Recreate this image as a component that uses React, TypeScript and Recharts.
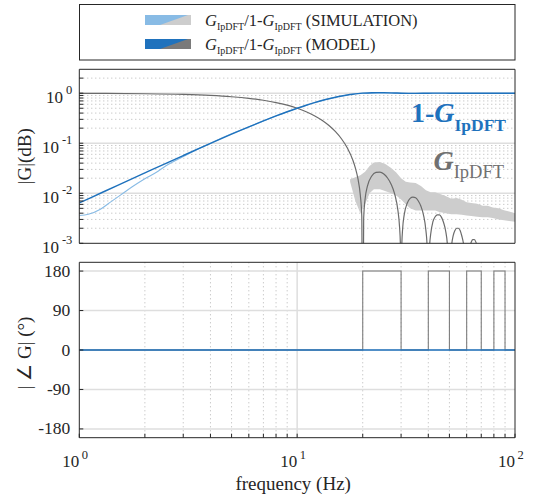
import React from 'react'
import { ComposedChart, Line, Area, XAxis, YAxis, CartesianGrid, Label } from 'recharts'

const FONT = "'Liberation Serif'"
const INK = '#262626'
const BLUE = '#1f72bd'
const LIGHT_BLUE = '#88bbe5'
const GRAY = '#6b6b6b'
const LIGHT_GRAY = '#cdcdcd'

// frequency axis (Hz)
const X_TICKS = [1, 2, 3, 4, 5, 6, 7, 8, 9, 10, 20, 30, 40, 50, 60, 70, 80, 90, 100]
const X_MINOR = [2, 3, 4, 5, 6, 7, 8, 9, 20, 30, 40, 50, 60, 70, 80, 90]
const X_MAJOR = [10]

// magnitude axis
const MAG_TICKS = [
  0.001, 0.002, 0.003, 0.004, 0.005, 0.006, 0.007, 0.008, 0.009,
  0.01, 0.02, 0.03, 0.04, 0.05, 0.06, 0.07, 0.08, 0.09,
  0.1, 0.2, 0.3, 0.4, 0.5, 0.6, 0.7, 0.8, 0.9, 1, 2,
]
const MAG_MINOR = [
  0.002, 0.003, 0.004, 0.005, 0.006, 0.007, 0.008, 0.009,
  0.02, 0.03, 0.04, 0.05, 0.06, 0.07, 0.08, 0.09,
  0.2, 0.3, 0.4, 0.5, 0.6, 0.7, 0.8, 0.9, 2,
]
const MAG_MAJOR = [0.01, 0.1, 1]

// phase axis (deg)
const PH_TICKS = [-180, -90, 0, 90, 180]

// G_IpDFT, model
const G_FREQ = [
  1, 2, 3, 4, 5, 6, 7, 8, 9, 10, 11, 12, 13, 14, 15, 16, 17, 18, 18.5, 19, 19.5, 19.8, 20,
  20.2, 20.5, 21, 22, 23, 24, 25, 26, 27, 28, 29, 29.5, 29.8, 30,
  30.2, 30.5, 31, 32, 33, 34, 35, 36, 37, 38, 39, 39.5, 40,
  40.5, 41, 42, 43, 44, 45, 46, 47, 48, 49, 50,
  51, 52, 53, 54, 55, 56, 57, 58, 59, 60,
  61, 62, 63, 64, 65, 66, 67, 68, 70, 75, 80, 85, 90, 95, 100,
]
const G_MODEL = [
  0.9936, 0.9745, 0.9433, 0.901, 0.8488, 0.7884, 0.7214, 0.6497, 0.5752, 0.5, 0.4258, 0.3544, 0.2871, 0.2253, 0.1698, 0.1213, 0.0802, 0.0464, 0.0322, 0.0198, 0.0091, 0.0035, 0.000001,
  0.0032, 0.0076, 0.0137, 0.0221, 0.0261, 0.0265, 0.0243, 0.0202, 0.0152, 0.0098, 0.0046, 0.0022, 0.00085, 0.000001,
  0.00082, 0.00197, 0.0037, 0.0063, 0.0079, 0.0084, 0.0081, 0.007, 0.0055, 0.0037, 0.0018, 0.00086, 0.000001,
  0.0008, 0.0015, 0.0027, 0.0034, 0.0037, 0.0037, 0.0033, 0.0026, 0.0018, 0.00087, 0.000001,
  0.00077, 0.0014, 0.0018, 0.002, 0.002, 0.0018, 0.0014, 0.00099, 0.00049, 0.000001,
  0.00045, 0.00081, 0.00106, 0.00118, 0.00119, 0.00108, 0.00088, 0.0006, 0.000001, 0.00077, 0.000001, 0.0005, 0.000001, 0.0004, 0.000001,
]

// 1-G_IpDFT, model
const H_FREQ = [1, 1.25, 1.5, 2, 2.5, 3, 4, 5, 6, 7, 8, 9, 10, 11, 12, 13, 14, 15, 16, 17, 18, 19, 20, 22, 25, 28, 30, 35, 40, 45, 50, 55, 60, 70, 80, 100]
const H_MODEL = [
  0.0064, 0.01, 0.0144, 0.0255, 0.0397, 0.0567, 0.099, 0.1512, 0.2116, 0.2787, 0.3504, 0.4248, 0.5, 0.5742, 0.6456, 0.7129,
  0.7748, 0.8302, 0.8787, 0.9199, 0.9536, 0.9802, 1.0, 1.022, 1.024, 1.0098, 1.0, 0.9919, 1.0, 1.0037, 1.0, 0.998, 1.0, 1.0, 1.0, 1.0,
]

// 1-G_IpDFT, simulation
const HS_FREQ = [1, 1.1, 1.25, 1.4, 1.55, 1.75, 2, 2.25, 2.5, 2.75, 3, 3.5, 4, 4.5, 5, 6, 7, 8, 10, 12, 15, 20, 30, 50, 100]
const H_SIM = [
  0.0036, 0.0038, 0.0048, 0.0068, 0.0093, 0.0135, 0.0195, 0.026, 0.0355, 0.0445, 0.054, 0.0766, 0.099, 0.127, 0.155,
  0.2116, 0.2787, 0.3504, 0.5, 0.6456, 0.8302, 1.0, 1.0, 1.0, 1.0,
]

// G_IpDFT, simulation (noisy band: lower / upper envelope)
const BAND_FREQ = [17.5, 18.5, 19.5, 20.5, 21.5, 22.5, 24, 25.5, 27, 28.5, 30, 31.5, 33, 35, 37, 39, 41, 43, 45, 48, 51, 54, 57, 60, 63, 67, 71, 75, 79, 84, 89, 94, 100]
const BAND_LO = [0.017, 0.007, 0.004, 0.006, 0.01, 0.012, 0.012, 0.011, 0.01, 0.009, 0.0075, 0.006, 0.005, 0.0045, 0.0045, 0.0045, 0.0045, 0.0045, 0.0042, 0.004, 0.0038, 0.0038, 0.0037, 0.0036, 0.0035, 0.0034, 0.0033, 0.0033, 0.0032, 0.003, 0.0029, 0.0028, 0.0027]
const BAND_HI = [0.019, 0.021, 0.023, 0.027, 0.035, 0.041, 0.042, 0.038, 0.032, 0.026, 0.02, 0.017, 0.0165, 0.016, 0.014, 0.0115, 0.0105, 0.0105, 0.0098, 0.0088, 0.0078, 0.008, 0.0074, 0.0066, 0.0064, 0.0062, 0.0056, 0.0056, 0.0052, 0.005, 0.0046, 0.0043, 0.004]

// phase
const PH_FREQ = [1, 20, 30, 40, 50, 60, 70, 80, 90, 100]
const PH_G = [0, 180, 0, 180, 0, 180, 0, 180, 0, 0]
const PH_H_FREQ = [1, 100]
const PH_H = [0, 0]

const gData = G_FREQ.map((f, i) => ({ f, v: G_MODEL[i] }))
const hData = H_FREQ.map((f, i) => ({ f, v: H_MODEL[i] }))
const hsData = HS_FREQ.map((f, i) => ({ f, v: H_SIM[i] }))
const bandData = BAND_FREQ.map((f, i) => ({ f, r: [BAND_LO[i], BAND_HI[i]] }))
const phGData = PH_FREQ.map((f, i) => ({ f, v: PH_G[i] }))
const phHData = PH_H_FREQ.map((f, i) => ({ f, v: PH_H[i] }))

const isDecade = (v: number) => Math.abs(Math.log10(v) - Math.round(Math.log10(v))) < 1e-9

const txt = (size: number, extra: React.CSSProperties = {}): React.CSSProperties => ({
  fontFamily: FONT,
  fontSize: size,
  ...extra,
})

function MagTick(props: any) {
  const { x, y, payload } = props
  if (!isDecade(payload.value)) return <g />
  const e = Math.round(Math.log10(payload.value))
  return (
    <text x={x} y={y} dy={10} textAnchor="end" style={txt(17)} fill={INK}>
      10
      <tspan dx={3} dy={-9} style={txt(12.5)}>{e}</tspan>
    </text>
  )
}

function FreqTick(props: any) {
  const { x, y, payload } = props
  if (!isDecade(payload.value)) return <g />
  const e = Math.round(Math.log10(payload.value))
  return (
    <g>
      <text x={x} y={y + 13} textAnchor="end" style={txt(17)} fill={INK}>10</text>
      <text x={x + 2.5} y={y + 5} textAnchor="start" style={txt(12.5)} fill={INK}>{e}</text>
    </g>
  )
}

function PhaseTick(props: any) {
  const { x, y, payload } = props
  return (
    <text x={x} y={y} dy={5.5} textAnchor="end" style={txt(17.5)} fill={INK}>
      {payload.value}
    </text>
  )
}

const yTitle = (text: string, shift: number) => (props: any) => {
  const { x, y, height } = props.viewBox
  return (
    <text
      transform={`translate(${x + 31},${y + height / 2 + shift}) rotate(-90)`}
      textAnchor="middle"
      style={txt(19)}
      fill={INK}
    >
      {text}
    </text>
  )
}

const xTitle = (props: any) => {
  const { x, y, width } = props.viewBox
  return (
    <text x={x + width / 2 - 4} y={y + 52} textAnchor="middle" style={txt(19)} fill={INK}>
      frequency (Hz)
    </text>
  )
}

const freqAxisProps = {
  type: 'number' as const,
  dataKey: 'f',
  scale: 'log' as const,
  domain: [1, 100],
  allowDataOverflow: true,
  ticks: X_TICKS,
  interval: 0 as const,
  stroke: INK,
}

function LegendBox() {
  const rows = [
    { y: 26, a: LIGHT_BLUE, b: LIGHT_GRAY, name: 'SIMULATION' },
    { y: 50, a: BLUE, b: '#7a7a7a', name: 'MODEL' },
  ]
  return (
    <g fill={INK}>
      <rect x={79.5} y={4.5} width={435.5} height={55.5} fill="#fff" stroke={INK} strokeWidth={1} />
      {rows.map((r) => (
        <g key={r.name}>
          <rect x={145} y={r.y - 11} width={46} height={10} fill={r.a} />
          <polygon points={`160,${r.y - 1} 188,${r.y - 11} 191,${r.y - 11} 191,${r.y - 1}`} fill={r.b} />
          <text x={205} y={r.y} style={txt(16.5)}>
            <tspan style={txt(16.5, { fontStyle: 'italic' })}>G</tspan>
            <tspan style={txt(10)} dy={4}>IpDFT</tspan>
            <tspan dy={-4}>/1-</tspan>
            <tspan style={txt(16.5, { fontStyle: 'italic' })}>G</tspan>
            <tspan style={txt(10)} dy={4}>IpDFT</tspan>
            <tspan dy={-4}>{` (${r.name})`}</tspan>
          </text>
        </g>
      ))}
    </g>
  )
}

export default function App() {
  return (
    <div style={{ position: 'absolute', left: 0, top: 0, width: 542, height: 499, background: '#fff' }}>
      <div style={{ position: 'absolute', left: 0, top: 0 }}>
        <ComposedChart width={542} height={262} margin={{ top: 69.3, right: 27, bottom: 0, left: 0 }}>
          <CartesianGrid verticalValues={X_MINOR} horizontalValues={MAG_MINOR} stroke="#b5b5b5" strokeDasharray="1 3" />
          <CartesianGrid verticalValues={X_MAJOR} horizontalValues={MAG_MAJOR} stroke="#dedede" strokeWidth={1.5} />
          <XAxis {...freqAxisProps} orientation="bottom" height={18.7} tick={false} tickSize={-4} />
          <XAxis {...freqAxisProps} xAxisId="top" orientation="top" mirror tick={false} tickSize={4} />
          <YAxis
            type="number"
            scale="log"
            domain={[0.001, 3]}
            allowDataOverflow
            ticks={MAG_TICKS}
            interval={0}
            width={79.3}
            tickSize={-4}
            tickMargin={11}
            tick={<MagTick />}
            stroke={INK}
          >
            <Label content={yTitle('|G|(dB)', 0)} />
          </YAxis>
          <YAxis
            yAxisId="right"
            orientation="right"
            mirror
            type="number"
            scale="log"
            domain={[0.001, 3]}
            allowDataOverflow
            ticks={MAG_TICKS}
            interval={0}
            tick={false}
            tickSize={4}
            stroke={INK}
          />
          <Area data={bandData} dataKey="r" type="linear" stroke="none" fill={LIGHT_GRAY} fillOpacity={1} isAnimationActive={false} />
          <Line data={hsData} dataKey="v" type="monotone" stroke={LIGHT_BLUE} strokeWidth={1.1} dot={false} isAnimationActive={false} />
          <Line data={gData} dataKey="v" type="monotone" stroke={GRAY} strokeWidth={1.2} dot={false} isAnimationActive={false} />
          <Line data={hData} dataKey="v" type="monotone" stroke={BLUE} strokeWidth={1.4} dot={false} isAnimationActive={false} />
        </ComposedChart>
      </div>

      <div style={{ position: 'absolute', left: 0, top: 250 }}>
        <ComposedChart width={542} height={249} margin={{ top: 12.3, right: 27, bottom: 0, left: 0 }}>
          <CartesianGrid verticalValues={X_MINOR} horizontal={false} stroke="#b5b5b5" strokeDasharray="1 3" />
          <CartesianGrid verticalValues={X_MAJOR} horizontalValues={PH_TICKS} stroke="#dedede" strokeWidth={1.5} />
          <XAxis {...freqAxisProps} orientation="bottom" height={61.3} tickSize={-4} tickMargin={20} tick={<FreqTick />}>
            <Label content={xTitle} />
          </XAxis>
          <XAxis {...freqAxisProps} xAxisId="top" orientation="top" mirror tick={false} tickSize={4} />
          <YAxis
            type="number"
            domain={[-200, 200]}
            allowDataOverflow
            ticks={PH_TICKS}
            interval={0}
            width={79.3}
            tickSize={-4}
            tickMargin={13}
            tick={<PhaseTick />}
            stroke={INK}
          >
            <Label content={yTitle('| \u2220 G| (\u00b0)', 3)} />
          </YAxis>
          <YAxis
            yAxisId="right"
            orientation="right"
            mirror
            type="number"
            domain={[-200, 200]}
            allowDataOverflow
            ticks={PH_TICKS}
            interval={0}
            tick={false}
            tickSize={4}
            stroke={INK}
          />
          <Line data={phGData} dataKey="v" type="stepAfter" stroke="#7d7d7d" strokeWidth={1.1} dot={false} isAnimationActive={false} />
          <Line data={phHData} dataKey="v" type="linear" stroke={BLUE} strokeWidth={1.4} dot={false} isAnimationActive={false} />
        </ComposedChart>
      </div>

      <svg width={542} height={250} style={{ position: 'absolute', left: 0, top: 0, pointerEvents: 'none' }}>
        <LegendBox />
        <text x={506} y={121.7} textAnchor="end" fill={BLUE} style={txt(28, { fontWeight: 'bold' })}>
          <tspan>1-</tspan>
          <tspan style={txt(28, { fontWeight: 'bold', fontStyle: 'italic' })}>G</tspan>
          <tspan style={txt(17.5, { fontWeight: 'bold' })} dy={9}>IpDFT</tspan>
        </text>
        <text x={504} y={170} textAnchor="end" fill="#707070" style={txt(28)}>
          <tspan style={txt(28, { fontWeight: 'bold', fontStyle: 'italic' })}>G</tspan>
          <tspan style={txt(18.5)} dy={8}>IpDFT</tspan>
        </text>
      </svg>
    </div>
  )
}
